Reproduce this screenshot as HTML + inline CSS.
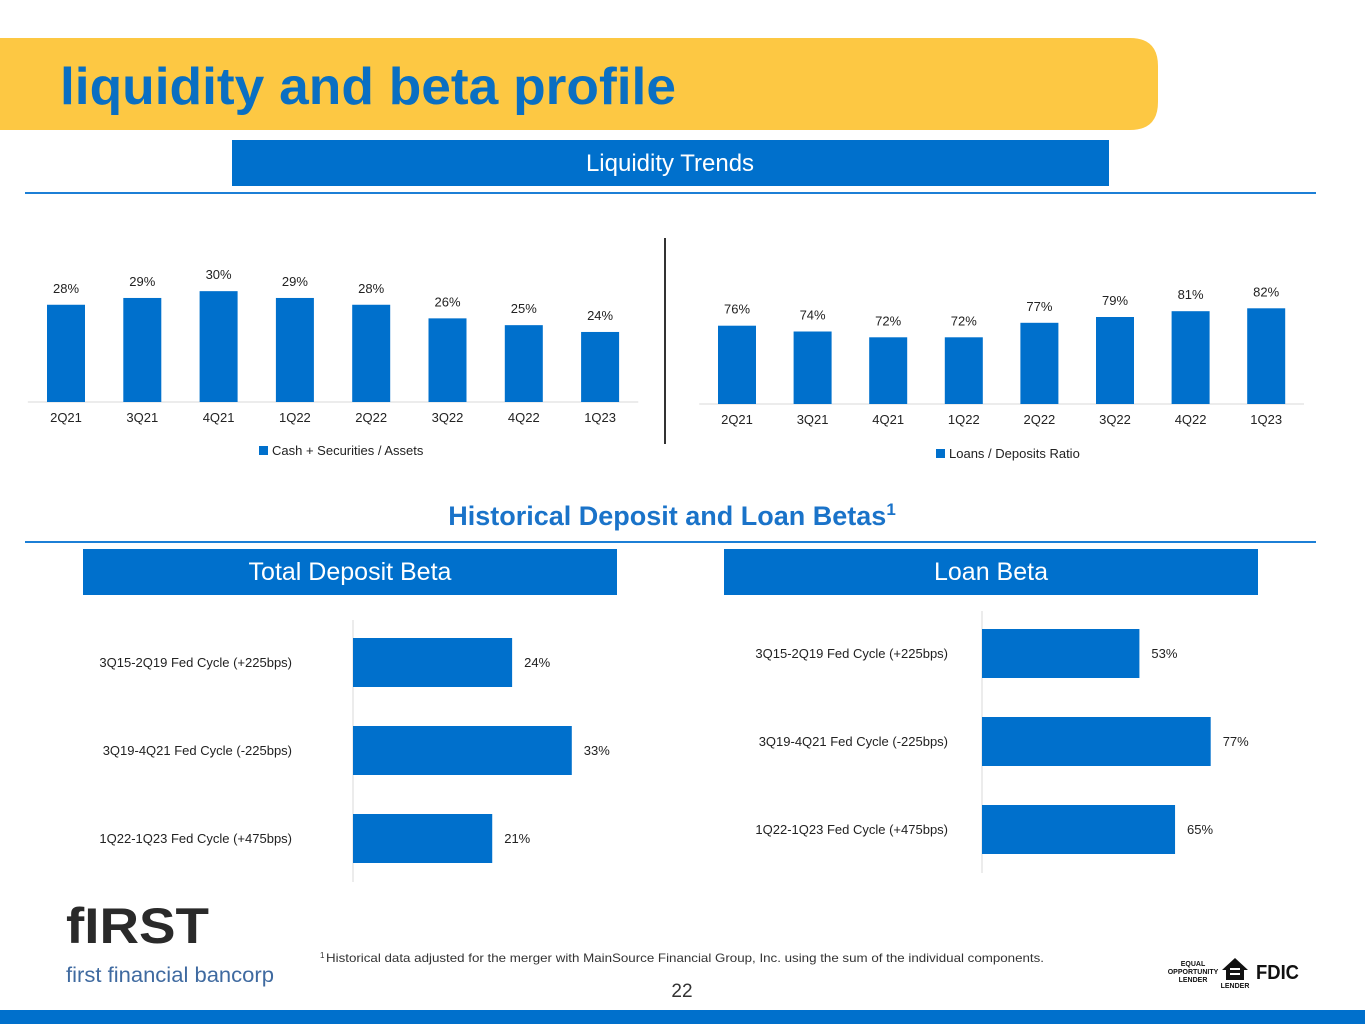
<!DOCTYPE html>
<html><head><meta charset="utf-8">
<style>
html,body{margin:0;padding:0;background:#fff;}
body{width:1365px;height:1024px;overflow:hidden;position:relative;font-family:"Liberation Sans",sans-serif;}
svg text{font-family:"Liberation Sans",sans-serif;}
</style></head>
<body>
<svg id="s" width="1365" height="1024" viewBox="0 0 1365 1024" xmlns="http://www.w3.org/2000/svg">
  <path d="M0 38 H1130 Q1158 38 1158 66 V102 Q1158 130 1130 130 H0 Z" fill="#FDC843"/>
  <text x="60" y="104" font-size="52" font-weight="bold" fill="#0A6FC2" textLength="616" lengthAdjust="spacingAndGlyphs">liquidity and beta profile</text>
  <rect x="232" y="140" width="877" height="46" fill="#0070CC"/>
  <text x="670" y="171" font-size="24" fill="#fff" text-anchor="middle">Liquidity Trends</text>
  <rect x="25" y="192" width="1291" height="2" fill="#1C7FD6"/>
  <rect x="664" y="238" width="2" height="206" fill="#333"/>
  <g id="c1"></g>
  <g id="c2"></g>
  <text x="672" y="525" font-size="27" font-weight="bold" fill="#1A73C9" text-anchor="middle">Historical Deposit and Loan Betas<tspan font-size="17" dy="-10">1</tspan></text>
  <rect x="25" y="541" width="1291" height="2" fill="#1C7FD6"/>
  <rect x="83" y="549" width="534" height="46" fill="#0070CC"/>
  <text x="350" y="580" font-size="25" fill="#fff" text-anchor="middle">Total Deposit Beta</text>
  <rect x="724" y="549" width="534" height="46" fill="#0070CC"/>
  <text x="991" y="580" font-size="25" fill="#fff" text-anchor="middle">Loan Beta</text>
  <g id="c3"></g>
  <g id="c4"></g>
  <text x="66" y="943" font-size="50" font-weight="bold" fill="#2a2a2a" textLength="143" lengthAdjust="spacingAndGlyphs">fIRST</text>
  <text x="66" y="982" font-size="21" fill="#3F6AA0" textLength="208" lengthAdjust="spacingAndGlyphs">first financial bancorp</text>
  <text x="320" y="962" font-size="8" fill="#333" dy="-4">1</text>
  <text x="326" y="962" font-size="12" fill="#333" textLength="718" lengthAdjust="spacingAndGlyphs">Historical data adjusted for the merger with MainSource Financial Group, Inc. using the sum of the individual components.</text>
  <text x="682" y="997" font-size="19" fill="#333" text-anchor="middle">22</text>
  <g>
    <text x="1193" y="966" font-size="7" font-weight="bold" text-anchor="middle" fill="#111">EQUAL</text>
    <text x="1193" y="974" font-size="7" font-weight="bold" text-anchor="middle" fill="#111">OPPORTUNITY</text>
    <text x="1193" y="982" font-size="7" font-weight="bold" text-anchor="middle" fill="#111">LENDER</text>
    <path d="M1222 970 L1235 958 L1248 970 H1244 V980 H1226 V970 Z" fill="#111"/>
    <rect x="1230" y="968" width="10" height="2" fill="#fff"/><rect x="1230" y="973" width="10" height="2" fill="#fff"/>
    <text x="1235" y="988" font-size="7" font-weight="bold" text-anchor="middle" fill="#111">LENDER</text>
    <text x="1256" y="979" font-size="20" font-weight="bold" fill="#111" textLength="43" lengthAdjust="spacingAndGlyphs">FDIC</text>
  </g>
  <rect x="0" y="1010" width="1365" height="14" fill="#0070CC"/>
</svg>
<script>
const NS="http://www.w3.org/2000/svg";
const quarters=["2Q21","3Q21","4Q21","1Q22","2Q22","3Q22","4Q22","1Q23"];
const cashSec=[28,29,30,29,28,26,25,24];
const loanDep=[76,74,72,72,77,79,81,82];
const cycles=["3Q15-2Q19 Fed Cycle (+225bps)","3Q19-4Q21 Fed Cycle (-225bps)","1Q22-1Q23 Fed Cycle (+475bps)"];
const depositBeta=[24,33,21];
const loanBeta=[53,77,65];
const BLUE="#0070CC";
function mk(p,tag,at,txt){const e=document.createElementNS(NS,tag);for(const k in at)e.setAttribute(k,at[k]);if(txt!=null)e.textContent=txt;p.appendChild(e);return e;}
function vbar(id,vals,cfg){
  const g=document.getElementById(id);
  const x=i=>cfg.x0+i*cfg.step;
  const y=v=>cfg.base-(v-cfg.min)*cfg.k;
  mk(g,"line",{x1:cfg.x0-cfg.step/2,x2:x(vals.length-1)+cfg.step/2,y1:cfg.base,y2:cfg.base,stroke:"#d9d9d9","stroke-width":1});
  vals.forEach((v,i)=>{
    const r=mk(g,"rect",{x:x(i)-19,y:y(v),width:38,height:cfg.base-y(v),fill:BLUE});
    
    
    const t=mk(g,"text",{x:x(i),y:y(v)-12,"font-size":13,"text-anchor":"middle",fill:"#222"},v+"%");
    
    
    const c=mk(g,"text",{x:x(i),y:cfg.base+20,"font-size":13,"text-anchor":"middle",fill:"#222"},quarters[i]);
    
    
  });
  const lg=mk(g,"g",{});
  
  
  mk(lg,"rect",{x:cfg.lx,y:cfg.ly-9,width:9,height:9,fill:BLUE});
  mk(lg,"text",{x:cfg.lx+13,y:cfg.ly,"font-size":13,fill:"#222"},cfg.legend);
}
vbar("c1",cashSec,{x0:66,step:76.3,base:402,min:13.7,k:6.8,lx:259,ly:455,legend:"Cash + Securities / Assets"});
vbar("c2",loanDep,{x0:737,step:75.6,base:404,min:49,k:2.9,lx:936,ly:458,legend:"Loans / Deposits Ratio"});
function hbar(id,vals,cfg){
  const g=document.getElementById(id);
  const w=v=>v*cfg.k;
  mk(g,"line",{x1:cfg.ax,x2:cfg.ax,y1:cfg.y0-18,y2:cfg.y0+2*cfg.step+68,stroke:"#d9d9d9","stroke-width":1});
  vals.forEach((v,i)=>{
    const yt=cfg.y0+i*cfg.step;
    const r=mk(g,"rect",{x:cfg.ax,y:yt,width:w(v),height:49,fill:BLUE});
    
    
    const t=mk(g,"text",{x:cfg.ax+w(v)+12,y:yt+29,"font-size":13,fill:"#222"},v+"%");
    
    
    const c=mk(g,"text",{x:cfg.lr,y:yt+29,"font-size":13,"text-anchor":"end",fill:"#222"},cycles[i]);
    
    
  });
}
hbar("c3",depositBeta,{ax:353,y0:638,step:88,k:6.63,lr:292});
hbar("c4",loanBeta,{ax:982,y0:629,step:88,k:2.97,lr:948});
</script>
</body></html>
